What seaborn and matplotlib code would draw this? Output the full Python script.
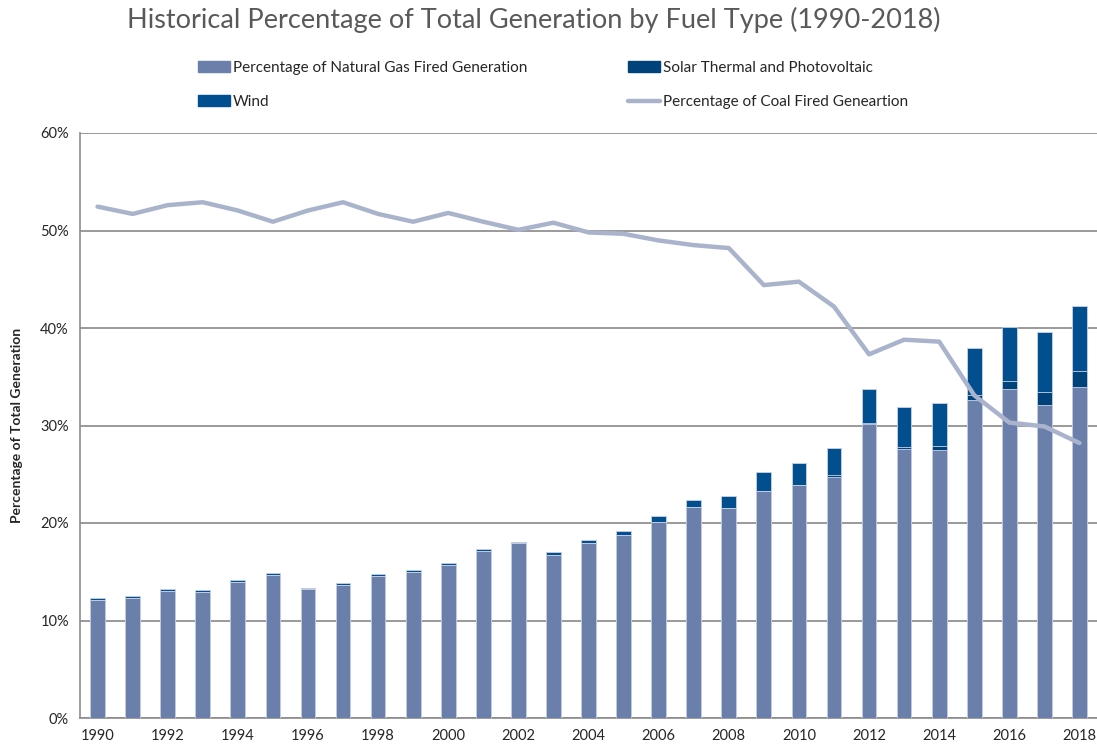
import matplotlib
matplotlib.use("Agg")
import matplotlib.pyplot as plt
import matplotlib.patches as mpatches
from matplotlib.lines import Line2D
import numpy as np
import pandas as pd
import seaborn as sns

# values, in percent
years = list(range(1990, 2019))
gas = [12.1, 12.3, 13.0, 12.9, 14.0, 14.7, 13.2, 13.65, 14.6, 15.0,
       15.7, 17.1, 17.9, 16.7, 17.9, 18.8, 20.1, 21.6, 21.5, 23.3,
       23.9, 24.7, 30.2, 27.55, 27.45, 32.6, 33.7, 32.1, 33.9]
solar = [0, 0, 0, 0, 0, 0, 0, 0, 0, 0,
         0, 0, 0, 0, 0, 0, 0, 0, 0, 0,
         0, 0.2, 0.1, 0.25, 0.4, 0.5, 0.9, 1.3, 1.7]
wind = [0.2, 0.25, 0.2, 0.2, 0.2, 0.15, 0.15, 0.15, 0.15, 0.15,
        0.2, 0.2, 0.2, 0.3, 0.4, 0.4, 0.65, 0.75, 1.25, 1.9,
        2.3, 2.75, 3.4, 4.1, 4.45, 4.8, 5.5, 6.2, 6.7]
coal = [52.45, 51.7, 52.6, 52.9, 52.05, 50.9, 52.05, 52.9, 51.7, 50.9,
        51.8, 50.9, 50.07, 50.8, 49.8, 49.66, 48.98, 48.5, 48.2, 44.4,
        44.75, 42.2, 37.3, 38.8, 38.6, 33.1, 30.3, 29.9, 28.2]

df = pd.DataFrame({"year": [str(y) for y in years], "gas": gas, "solar": solar,
                   "wind": wind, "coal": coal})
df["gas_solar"] = df["gas"] + df["solar"]
df["total"] = df["gas_solar"] + df["wind"]
df["pos"] = np.arange(len(df))

c_gas = "#6A80AA"
c_solar = "#00427A"
c_wind = "#014F8F"
c_coal = "#A9B4CC"
edge = "#C9D3E6"

sns.set_style("white")
plt.rcParams["font.family"] = ["Lato", "DejaVu Sans"]

fig = plt.figure(figsize=(10.97, 7.5), dpi=100)
ax = fig.add_axes([80 / 1097, 32 / 750, 1 - 80 / 1097, (718 - 133) / 750])

# stacked bars drawn back to front
for col, c in [("total", c_wind), ("gas_solar", c_solar), ("gas", c_gas)]:
    sns.barplot(data=df, x="year", y=col, color=c, saturation=1, width=0.42,
                edgecolor=edge, linewidth=0.6, ax=ax, zorder=3)

sns.lineplot(x=df["pos"], y=df["coal"], color=c_coal, linewidth=3.2, ax=ax, zorder=5)

ax.set_xlim(-0.5, len(years) - 0.5)
ax.set_ylim(0, 60)
ax.set_yticks(np.arange(0, 61, 10))
ax.set_yticklabels([f"{v}%" for v in range(0, 61, 10)], fontsize=10.5)
ax.yaxis.grid(True, color="#9a9a9a", linewidth=1.4, zorder=0)
ax.set_axisbelow(True)

ax.set_xticks(np.arange(0, len(years), 2))
ax.set_xticklabels([str(y) for y in years[::2]], fontsize=10.5)
ax.set_xticks(np.arange(-0.5, len(years), 1), minor=True)
ax.tick_params(axis="x", which="major", length=0, pad=8)
ax.tick_params(axis="x", which="minor", length=5, width=1, color="#8c8c8c", direction="out")
ax.tick_params(axis="y", length=0, pad=8)

for s in ["top", "right"]:
    ax.spines[s].set_visible(False)
for s in ["left", "bottom"]:
    ax.spines[s].set_color("#8c8c8c")
    ax.spines[s].set_linewidth(1.2)

ax.set_xlabel("")
ax.set_ylabel("Percentage of Total Generation", fontsize=10, fontweight="bold", labelpad=12)

fig.text(534 / 1097, 1 - 20 / 750, "Historical Percentage of Total Generation by Fuel Type (1990-2018)",
         ha="center", va="center", fontsize=19.5, color="#595959")

h_gas = mpatches.Patch(color=c_gas, label="Percentage of Natural Gas Fired Generation")
h_wind = mpatches.Patch(color=c_wind, label="Wind")
h_solar = mpatches.Patch(color=c_solar, label="Solar Thermal and Photovoltaic")
h_coal = Line2D([], [], color=c_coal, linewidth=3.2, label="Percentage of Coal Fired Geneartion")

leg_kw = dict(frameon=False, fontsize=11, handlelength=2.1, handleheight=0.7,
              handletextpad=0.2, labelspacing=1.3, borderpad=0, borderaxespad=0,
              loc="upper left")
leg1 = fig.legend(handles=[h_gas, h_wind], bbox_to_anchor=(198 / 1097, 1 - 61 / 750), **leg_kw)
leg2 = fig.legend(handles=[h_solar, h_coal], bbox_to_anchor=(628 / 1097, 1 - 61 / 750), **leg_kw)

fig.savefig("out.png", dpi=100)
